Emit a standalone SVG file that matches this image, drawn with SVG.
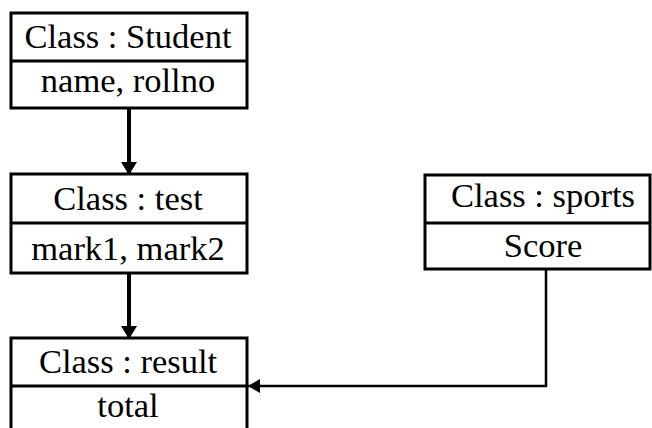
<svg xmlns="http://www.w3.org/2000/svg" width="652" height="428" viewBox="0 0 652 428">
  <style>
    .box { fill: #fff; stroke: #000; stroke-width: 3; }
    .div { stroke: #000; stroke-width: 3; }
    .lbl { font-family: "Liberation Serif", "Times New Roman", serif; font-size: 34.5px; fill: #000; text-anchor: middle; }
    .wire { fill: none; stroke: #000; }
  </style>
  <defs>
    <marker id="head" viewBox="0 0 13 16" refX="12" refY="8" markerWidth="13" markerHeight="16" markerUnits="userSpaceOnUse" orient="auto">
      <path d="M0,0 L13,8 L0,16 Z" fill="#000"/>
    </marker>
    <marker id="head-sm" viewBox="0 0 12 14" refX="12" refY="7" markerWidth="12" markerHeight="14" markerUnits="userSpaceOnUse" orient="auto">
      <path d="M0,0 L12,7 L0,14 Z" fill="#000"/>
    </marker>
  </defs>

  <g id="connectors">
    <line class="wire" x1="129" y1="108" x2="129" y2="174" stroke-width="4" marker-end="url(#head)"/>
    <line class="wire" x1="129" y1="273" x2="129" y2="338" stroke-width="4" marker-end="url(#head)"/>
    <polyline class="wire" points="546,269 546,386 248,386" stroke-width="2.5" marker-end="url(#head-sm)"/>
  </g>

  <g id="student">
    <rect class="box" x="11" y="13" width="236" height="95"/>
    <line class="div" x1="11" y1="61" x2="247" y2="61"/>
    <text class="lbl" x="128" y="48">Class : Student</text>
    <text class="lbl" x="128" y="92">name, rollno</text>
  </g>

  <g id="test">
    <rect class="box" x="11" y="174" width="236" height="99"/>
    <line class="div" x1="11" y1="223" x2="247" y2="223"/>
    <text class="lbl" x="128" y="210">Class : test</text>
    <text class="lbl" x="128" y="260">mark1, mark2</text>
  </g>

  <g id="sports">
    <rect class="box" x="425" y="175" width="225" height="94"/>
    <line class="div" x1="425" y1="223" x2="650" y2="223"/>
    <text class="lbl" x="543" y="207">Class : sports</text>
    <text class="lbl" x="543" y="257">Score</text>
  </g>

  <g id="result">
    <rect class="box" x="11" y="338" width="236" height="100"/>
    <line class="div" x1="11" y1="386" x2="247" y2="386"/>
    <text class="lbl" x="128" y="373">Class : result</text>
    <text class="lbl" x="128" y="417">total</text>
  </g>
</svg>
